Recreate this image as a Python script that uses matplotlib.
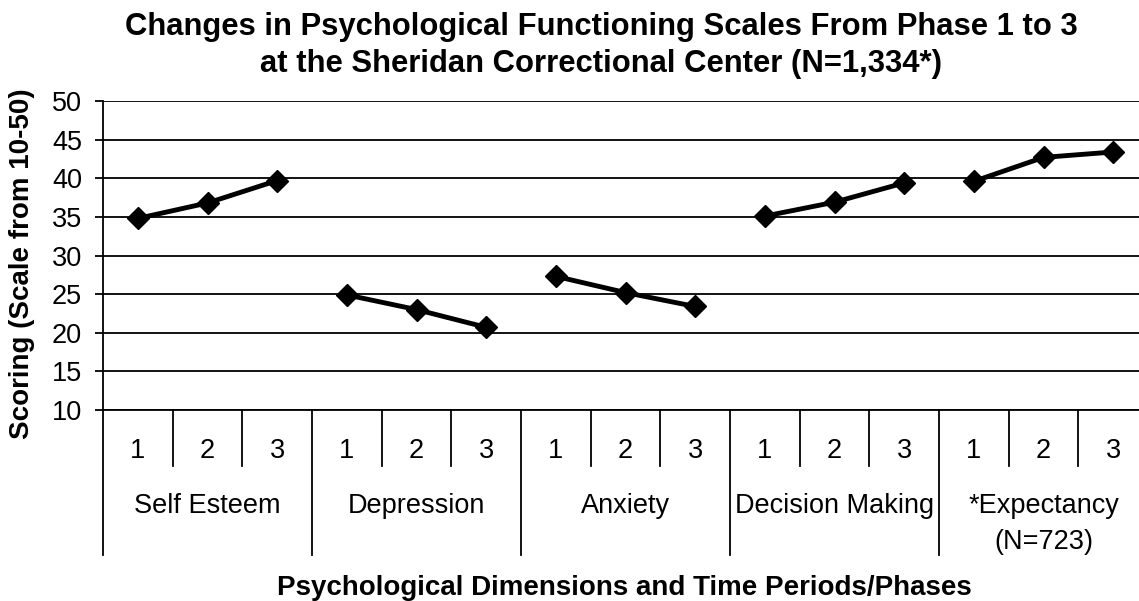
import matplotlib.pyplot as plt

plt.rcParams['font.family'] = ['Liberation Sans', 'DejaVu Sans']

dimensions = ['Self Esteem', 'Depression', 'Anxiety', 'Decision Making', '*Expectancy\n(N=723)']
phases = ['1', '2', '3']
self_esteem = [34.8, 36.8, 39.7]
depression = [24.9, 23.0, 20.7]
anxiety = [27.3, 25.2, 23.4]
decision_making = [35.1, 36.9, 39.4]
expectancy = [39.6, 42.7, 43.4]
series = [self_esteem, depression, anxiety, decision_making, expectancy]

W, H = 1139, 601
fig = plt.figure(figsize=(W / 100, H / 100), dpi=100)
# plot area: x 103..1148 px (runs past right edge like the original), y 101..410 px
ax = fig.add_axes([103 / W, (H - 410) / H, (1148 - 103) / W, (410 - 101) / H])

n = len(phases)
for g, vals in enumerate(series):
    xs = [g * n + i + 1 for i in range(n)]
    ax.plot(xs, vals, color='black', lw=3.5, marker='D', ms=11, zorder=3)

ax.set_xlim(0.5, len(series) * n + 0.5)
ax.set_ylim(10, 50)
ax.set_yticks(range(10, 51, 5))
ax.grid(axis='y', color='black', lw=1.3)
ax.set_axisbelow(True)
for s in ['top', 'right']:
    ax.spines[s].set_visible(False)
ax.spines['left'].set_linewidth(1.3)
ax.spines['bottom'].set_linewidth(1.3)
ax.tick_params(axis='y', length=6, width=1.3, labelsize=19.5, pad=9)
ax.set_xticks([])

# category axis below the plot, in axes-fraction units
ph = 410 - 101
tr = ax.get_xaxis_transform()
sub_bot = -(466 - 410) / ph
grp_bot = -(555 - 410) / ph
for g in range(len(series)):
    x0 = g * n + 0.5
    ax.plot([x0, x0], [0, grp_bot], color='black', lw=1.3, transform=tr, clip_on=False)
    for i in range(1, n):
        ax.plot([x0 + i, x0 + i], [0, sub_bot], color='black', lw=1.3, transform=tr, clip_on=False)
    for i, p in enumerate(phases):
        ax.text(x0 + i + 0.5, -(458 - 410) / ph, p, transform=tr, ha='center', va='baseline',
                fontsize=19.5)
    for k, line in enumerate(dimensions[g].split('\n')):
        ax.text(x0 + n / 2, -(513 + 36 * k - 410) / ph, line, transform=tr, ha='center',
                va='baseline', fontsize=19.5)
x_end = len(series) * n + 0.5
ax.plot([x_end, x_end], [0, grp_bot], color='black', lw=1.3, transform=tr, clip_on=False)

fig.text(601 / W, 1 - 35 / H, 'Changes in Psychological Functioning Scales From Phase 1 to 3',
         ha='center', va='baseline', fontsize=22.3, fontweight='bold')
fig.text(601 / W, 1 - 72 / H, 'at the Sheridan Correctional Center (N=1,334*)',
         ha='center', va='baseline', fontsize=22.3, fontweight='bold')
fig.text(22 / W, 1 - 264 / H, 'Scoring (Scale from 10-50)', rotation=90,
         ha='center', va='center', fontsize=20, fontweight='bold')
fig.text(624 / W, 1 - 595 / H, 'Psychological Dimensions and Time Periods/Phases',
         ha='center', va='baseline', fontsize=20, fontweight='bold')

fig.savefig('out.png', dpi=100)
